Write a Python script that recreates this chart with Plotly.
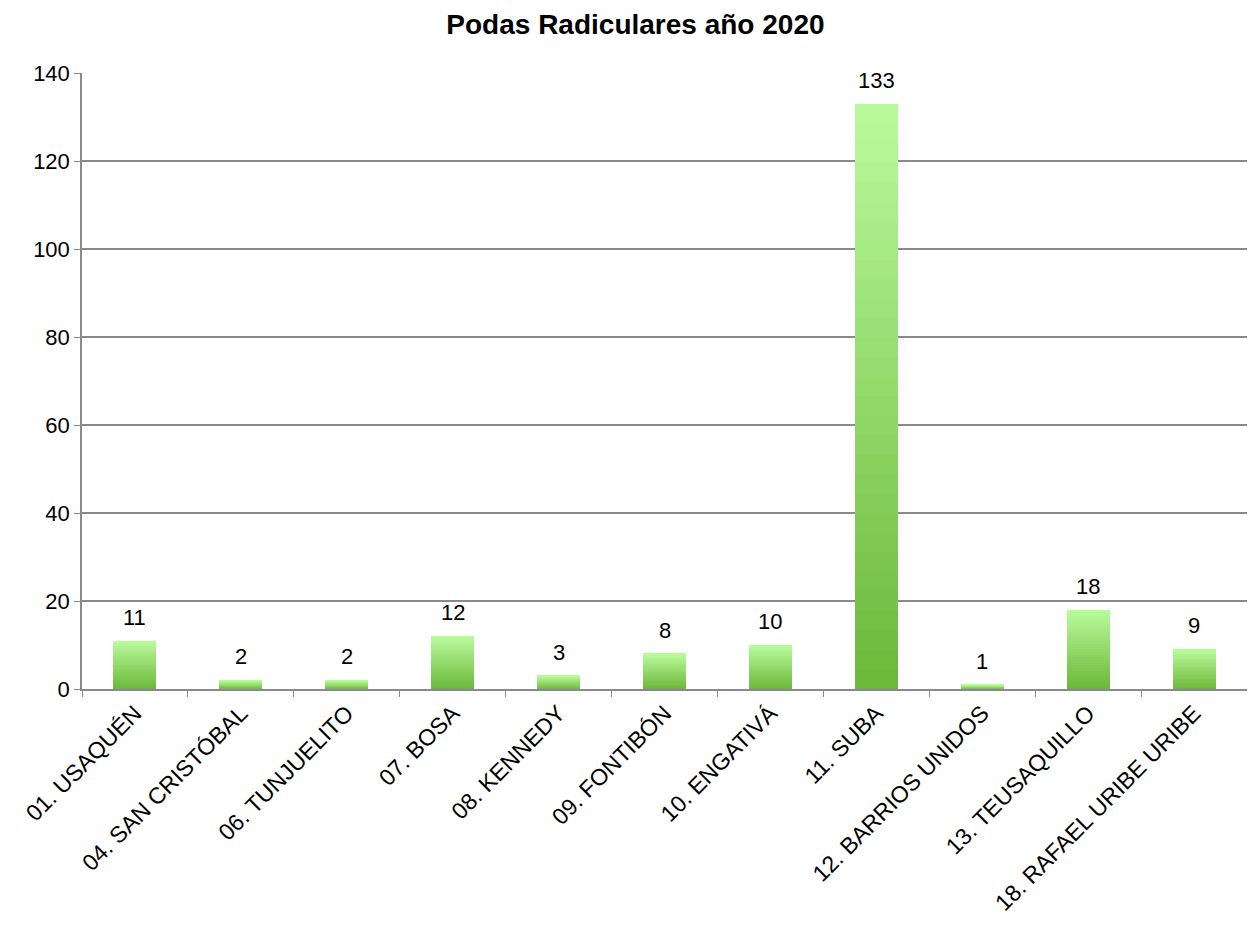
import plotly.graph_objects as go

categories = ["01. USAQUÉN", "04. SAN CRISTÓBAL", "06. TUNJUELITO", "07. BOSA",
              "08. KENNEDY", "09. FONTIBÓN", "10. ENGATIVÁ", "11. SUBA",
              "12. BARRIOS UNIDOS", "13. TEUSAQUILLO", "18. RAFAEL URIBE URIBE"]
values = [11, 2, 2, 12, 3, 8, 10, 133, 1, 18, 9]
y_ticks = [0, 20, 40, 60, 80, 100, 120, 140]
title_text = "<b>Podas Radiculares año 2020</b>"

FONT = "Liberation Sans, Arial"

# gradient colours (bottom -> top) used to shade each bar
c_bottom = (108, 185, 58)
c_top = (185, 249, 156)
n_steps = 30

fig = go.Figure()
for i in range(n_steps):
    t = i / (n_steps - 1)
    col = tuple(round(c_bottom[k] + (c_top[k] - c_bottom[k]) * t) for k in range(3))
    fig.add_trace(go.Bar(
        x=categories,
        y=[v / n_steps for v in values],
        marker=dict(color="rgb(%d,%d,%d)" % col, line=dict(width=0)),
        showlegend=False,
        hoverinfo="skip",
    ))

for c, v in zip(categories, values):
    fig.add_annotation(x=c, y=v, text=str(v), showarrow=False,
                       xanchor="center", yanchor="bottom", yshift=9,
                       font=dict(family=FONT, size=22, color="#000000"))

fig.update_layout(
    barmode="stack",
    bargap=0.594,
    width=1240, height=913,
    margin=dict(l=74, r=1, t=65, b=232),
    paper_bgcolor="white", plot_bgcolor="white",
    title=dict(text=title_text, x=0.506, xanchor="center", y=0.982, yanchor="middle",
               font=dict(family=FONT, size=28, color="#000000")),
    font=dict(family=FONT, size=22, color="#000000"),
)
fig.update_xaxes(
    automargin=False,
    tickangle=-45, showline=True, linecolor="#8a8a8a", linewidth=1.5,
    ticks="outside", tickson="boundaries", ticklen=6, tickcolor="#8a8a8a",
    tickfont=dict(family=FONT, size=23, color="#000000"),
    showgrid=False,
)
fig.update_yaxes(
    automargin=False,
    range=[0, 140], tickvals=y_ticks, showline=True, linecolor="#8a8a8a", linewidth=1.5,
    ticks="outside", ticklen=6, tickcolor="#8a8a8a",
    showgrid=True, gridcolor="#8a8a8a", gridwidth=1.5, zeroline=False,
    tickfont=dict(family=FONT, size=22, color="#000000"),
)

fig.write_html("out.html")
